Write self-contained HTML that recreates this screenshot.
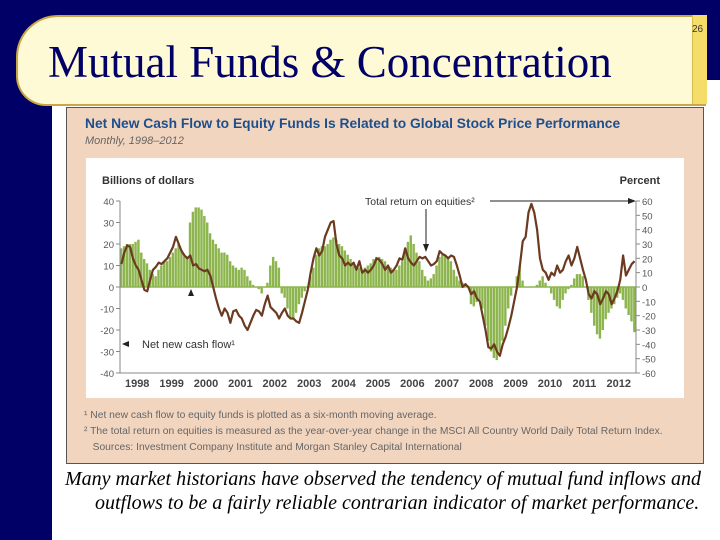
<!DOCTYPE html>
<html><head><meta charset="utf-8"><style>
body{margin:0;width:720px;height:540px;position:relative;background:#fff;overflow:hidden;font-family:"Liberation Sans",sans-serif}
.abs{position:absolute}
</style></head><body>
<div class="abs" style="left:0;top:0;width:720px;height:80px;background:#000066"></div>
<div class="abs" style="left:0;top:0;width:52px;height:540px;background:#000066"></div>
<div class="abs" style="left:16px;top:15px;width:688px;height:87px;background:#fffad6;border:2px solid #c9a646;border-right:none;border-radius:42px 0 0 30px"></div>
<div class="abs" style="left:692px;top:15px;width:14px;height:89px;background:#f5dd6a;border-left:1px solid #d8bd50"></div>
<div class="abs" style="left:692px;top:24px;font-size:10px;color:#333">26</div>
<div class="abs" style="left:48px;top:36px;font-family:'Liberation Serif',serif;font-size:45px;color:#000066;white-space:nowrap">Mutual Funds &amp; Concentration</div>
<div class="abs" style="left:66px;top:107px;width:636px;height:355px;background:#f2d5bf;border:1px solid #555"></div>
<div class="abs" style="left:85px;top:116px;font-size:13.8px;font-weight:bold;color:#1d4f8c;white-space:nowrap">Net New Cash Flow to Equity Funds Is Related to Global Stock Price Performance</div>
<div class="abs" style="left:85px;top:135px;font-size:11px;font-style:italic;color:#666">Monthly, 1998–2012</div>
<div class="abs" style="left:86px;top:158px;width:598px;height:240px;background:#fff"></div>
<div class="abs" style="left:84px;top:408px;font-size:10.3px;line-height:16px;color:#666;white-space:nowrap">
<div>¹ Net new cash flow to equity funds is plotted as a six-month moving average.</div>
<div>² The total return on equities is measured as the year-over-year change in the MSCI All Country World Daily Total Return Index.</div>
<div>&nbsp;&nbsp;&nbsp;Sources: Investment Company Institute and Morgan Stanley Capital International</div></div>
<div class="abs" style="left:65px;top:467px;font-family:'Liberation Serif',serif;font-style:italic;font-size:20px;line-height:24px;color:#000;white-space:nowrap">Many market historians have observed the tendency of mutual fund inflows and<br><span style="padding-left:30px">outflows to be a fairly reliable contrarian indicator of market performance.</span></div>
<svg class="abs" style="left:0;top:0" width="720" height="540" id="chart"></svg>
<script>
const years=["1998","1999","2000","2001","2002","2003","2004","2005","2006","2007","2008","2009","2010","2011","2012"];
const leftTicks=[40,30,20,10,0,-10,-20,-30,-40];
const rightTicks=[60,50,40,30,20,10,0,-10,-20,-30,-40,-50,-60];
const cashFlow=[18,19,20,20,20,21,22,16,13,11,8,6,
5,8,10,12,12,14,16,18,20,17,15,14,
30,35,37,37,36,33,30,25,22,20,18,16,
16,15,12,10,9,8,9,8,5,3,1,0,
-1,-3,0,2,10,14,12,9,-3,-5,-10,-14,
-15,-12,-8,-5,-2,0,5,9,15,18,19,19,
20,22,23,22,20,19,17,15,13,11,10,9,
8,9,10,11,13,14,14,13,12,10,9,8,
8,10,12,18,21,24,20,16,12,8,5,3,
4,6,10,14,15,15,14,12,8,5,3,2,
1,0,-8,-9,-7,-6,-10,-18,-25,-30,-33,-34,
-30,-25,-18,-10,-4,0,5,10,3,0,0,0,
0,1,3,5,2,0,-3,-6,-9,-10,-6,-3,
-1,1,4,6,6,5,0,-6,-12,-18,-22,-24,
-20,-15,-12,-10,-8,-5,-3,-6,-10,-13,-16,-21];
const totalReturn=[16,24,29,28,20,15,12,5,-2,-3,5,12,
14,17,16,18,20,24,28,35,30,25,22,20,
22,15,16,13,12,11,12,8,0,-8,-15,-20,
-15,-18,-25,-17,-16,-20,-22,-27,-30,-25,-20,-16,
-17,-20,-12,-6,-14,-16,-18,-22,-18,-15,-20,-22,
-22,-24,-25,-18,-10,-2,10,20,27,22,25,35,
40,45,46,30,22,20,15,17,15,17,12,18,
10,12,10,12,15,20,19,16,12,15,10,12,
15,20,19,27,20,17,15,18,21,20,21,18,
15,16,18,25,23,22,20,22,21,15,8,0,
2,0,-5,-3,-8,-10,-20,-30,-42,-43,-40,-45,
-48,-40,-35,-28,-20,-10,0,15,32,35,52,58,
52,40,20,12,10,5,10,8,15,10,12,18,
22,15,20,28,20,12,5,-5,-8,-3,-5,-12,
-8,-3,-5,-12,-8,-3,5,22,8,12,16,18];
const svg=document.getElementById('chart');const NS='http://www.w3.org/2000/svg';
const X0=120,X1=636,Y0=287,YT=201;
const n=cashFlow.length;
const xm=i=>X0+(i+0.5)*(X1-X0)/n;
const yL=v=>Y0-(v/40)*(Y0-YT);
const yR=v=>Y0-(v/60)*(Y0-YT);
function mk(t,a){const e=document.createElementNS(NS,t);for(const k in a)e.setAttribute(k,a[k]);svg.appendChild(e);return e;}
const bw=(X1-X0)/n;
cashFlow.forEach((v,i)=>{const r=mk('rect',{x:xm(i)-bw/2,y:Math.min(yL(v),Y0),width:bw*0.85,height:Math.abs(yL(v)-Y0),fill:'#8db54e'});

});
let ax=mk('line',{x1:X0,y1:Y0,x2:X1,y2:Y0,stroke:'#8db54e','stroke-width':1.5});

let la=mk('line',{x1:X0,y1:yL(40),x2:X0,y2:yL(-40),stroke:'#888','stroke-width':1});

let ra=mk('line',{x1:X1,y1:yL(40),x2:X1,y2:yL(-40),stroke:'#888','stroke-width':1});

let ba=mk('line',{x1:X0,y1:yL(-40),x2:X1,y2:yL(-40),stroke:'#888','stroke-width':1});

leftTicks.forEach(v=>{mk('line',{x1:X0-4,y1:yL(v),x2:X0,y2:yL(v),stroke:'#888'});
const t=mk('text',{x:X0-6,y:yL(v)+4,'text-anchor':'end','font-size':9.5,fill:'#555'});t.textContent=v;
});
rightTicks.forEach(v=>{mk('line',{x1:X1,y1:yR(v),x2:X1+4,y2:yR(v),stroke:'#888'});
const t=mk('text',{x:X1+6,y:yR(v)+4,'font-size':9.5,fill:'#555'});t.textContent=v;
});
years.forEach((y,i)=>{const t=mk('text',{x:X0+(i+0.5)*(X1-X0)/years.length,y:387,'text-anchor':'middle','font-size':11,'font-weight':'bold',fill:'#444'});t.textContent=y;
});
const p=mk('polyline',{points:totalReturn.map((v,i)=>xm(i)+','+yR(v)).join(' '),fill:'none',stroke:'#6b3a20','stroke-width':2.2,'stroke-linejoin':'round'});

function txt(x,y,s,a,name){const t=mk('text',Object.assign({x:x,y:y,'font-size':11,fill:'#333'},a));t.textContent=s;
return t;}
txt(102,184,'Billions of dollars',{'font-weight':'bold'},'left-axis-title');
txt(660,184,'Percent',{'font-weight':'bold','text-anchor':'end'},'right-axis-title');
txt(365,205,'Total return on equities²',{'font-size':10.5},'line-annotation');
txt(142,348,'Net new cash flow¹',{'font-size':11},'bar-annotation');
mk('line',{x1:490,y1:201,x2:630,y2:201,stroke:'#222','stroke-width':1});
mk('path',{d:'M636 201 L628 198 L628 204 Z',fill:'#222'});
mk('line',{x1:426,y1:209,x2:426,y2:246,stroke:'#222','stroke-width':1});
mk('path',{d:'M426 252 L423 244 L429 244 Z',fill:'#222'});
mk('path',{d:'M122 344 L129 341 L129 347 Z',fill:'#222'});
mk('path',{d:'M191 289 L188 296 L194 296 Z',fill:'#222'});
</script>
</body></html>
